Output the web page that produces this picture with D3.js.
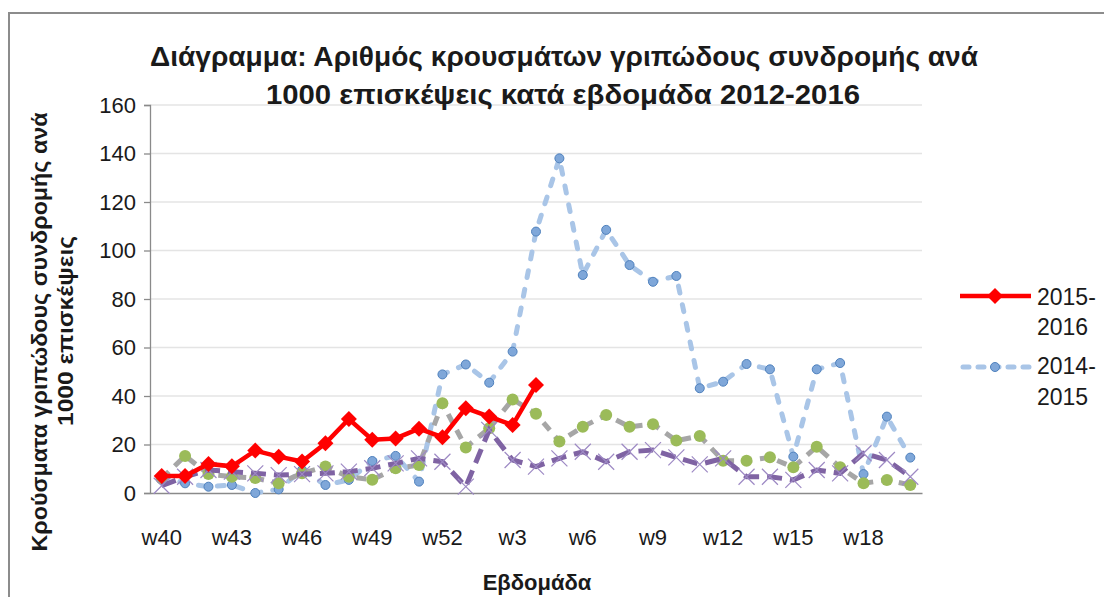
<!DOCTYPE html>
<html>
<head>
<meta charset="utf-8">
<script src="https://cdn.jsdelivr.net/npm/d3@7"></script>
<style>
  body { margin: 0; background: #fff; }
  svg { display: block; font-family: "Liberation Sans", Arial, sans-serif; }
  .tick text { fill: #1a1a1a; }
</style>
</head>
<body>
<svg id="chart" width="1104" height="597"></svg>
<script>
// weeks of the flu season, w40 .. w20
var weeks = ["w40","w41","w42","w43","w44","w45","w46","w47","w48","w49","w50","w51","w52",
  "w1","w2","w3","w4","w5","w6","w7","w8","w9","w10","w11","w12","w13","w14","w15","w16","w17","w18","w19","w20"];

var yTicks = [0, 20, 40, 60, 80, 100, 120, 140, 160];

// cases per 1000 visits
var s2015_2016 = [7, 7, 12, 11, 17.5, 15, 13, 20.5, 30.5, 22, 22.5, 26.5, 23, 35, 31.5, 28, 44.5];
var s2014_2015 = [7, 4, 2.6, 3.3, 0, 1.5, 9.5, 3.3, 5.4, 13.2, 15.3, 4.7, 48.9, 53, 45.5, 58.3, 107.8, 138,
  89.9, 108.5, 94, 87.1, 89.5, 43.2, 45.9, 53.2, 51, 15, 51, 53.6, 7.8, 31.5, 14.6];
var s2013_2014 = [6, 15.3, 7.8, 6.7, 6.2, 4, 8.1, 10.9, 6.7, 5.5, 10.2, 11.5, 37, 18.8, 26.7, 38.6, 32.7,
  21.2, 27.3, 32.2, 27.3, 28.4, 21.6, 23.5, 13.3, 13.3, 14.7, 10.6, 19.1, 10.6, 4, 5.4, 3.3];
var s2012_2013 = [3, 6.7, 9.5, 8.8, 8.1, 7.4, 7.8, 8.1, 8.8, 10.2, 12.2, 14.3, 12.9, 2.6, 26, 13.6, 10.9,
  14.3, 17, 12.9, 17, 17.7, 14.7, 11.8, 14.3, 6.7, 6.7, 5.4, 9.5, 8.1, 16.4, 13.6, 6.7];

function flu_chart() {
  var svg, x, y, plot, left, right, top, bottom, line, series;

  svg = d3.select("#chart");
  left = 150; right = 922; top = 105; bottom = 493;

  // outer chart frame
  svg.append("rect")
    .attr("x", 9).attr("y", 13).attr("width", 1200).attr("height", 700)
    .attr("fill", "none").attr("stroke", "#8c8c8c").attr("stroke-width", 2);

  x = d3.scaleBand().domain(weeks).range([left, right]);
  y = d3.scaleLinear().domain([0, 160]).range([bottom, top]);

  // gridlines
  svg.append("g").selectAll("line").data(yTicks.slice(1)).enter().append("line")
    .attr("x1", left).attr("x2", right)
    .attr("y1", function(d) { return y(d); }).attr("y2", function(d) { return y(d); })
    .attr("stroke", "#e4e4e4").attr("stroke-width", 1.3);

  // y axis
  var yAxis = svg.append("g").attr("transform", "translate(" + left + ",0)")
    .call(d3.axisLeft(y).tickValues(yTicks).tickSize(6).tickPadding(8));
  yAxis.selectAll("line, path").attr("stroke", "#8a8a8a").attr("stroke-width", 1.3);
  yAxis.selectAll("text").attr("font-size", 22).attr("font-family", "Liberation Sans");

  // x axis, label every third week
  var xAxis = svg.append("g").attr("transform", "translate(0," + bottom + ")")
    .call(d3.axisBottom(x).tickSize(0).tickPadding(36)
      .tickValues(weeks.filter(function(d, i) { return i % 3 === 0; })));
  xAxis.select("path").attr("stroke", "#8a8a8a").attr("stroke-width", 1.3);
  xAxis.selectAll("text").attr("font-size", 22).attr("font-family", "Liberation Sans");

  function cx(i) { return x(weeks[i]) + x.bandwidth() / 2; }

  line = d3.line().x(function(d, i) { return cx(i); }).y(function(d) { return y(d); });

  series = [
    { name: "2014-2015", values: s2014_2015, stroke: "#a9c5e7", width: 5, dash: "7,12", cap: "round", marker: "circle" },
    { name: "2013-2014", values: s2013_2014, stroke: "#a6a6a6", width: 5, dash: "10,8", cap: "butt", marker: "dot" },
    { name: "2012-2013", values: s2012_2013, stroke: "#7f63a3", width: 5, dash: "15,8", cap: "butt", marker: "x" },
    { name: "2015-2016", values: s2015_2016, stroke: "#ff0000", width: 4.5, dash: null, cap: "butt", marker: "diamond" }
  ];

  plot = svg.append("g");

  series.forEach(function(s) {
    var g = plot.append("g");
    g.append("path").datum(s.values)
      .attr("d", line)
      .attr("fill", "none")
      .attr("stroke", s.stroke)
      .attr("stroke-width", s.width)
      .attr("stroke-linecap", s.cap)
      .attr("stroke-dasharray", s.dash);
    drawMarkers(g, s);
  });

  function drawMarkers(g, s) {
    var pts = g.selectAll(".m").data(s.values).enter().append("g")
      .attr("transform", function(d, i) { return "translate(" + cx(i) + "," + y(d) + ")"; });
    if (s.marker === "circle") {
      pts.append("circle").attr("r", 4.5).attr("fill", "#7fa7d9").attr("stroke", "#4f81bd").attr("stroke-width", 1);
    } else if (s.marker === "dot") {
      pts.append("circle").attr("r", 6).attr("fill", "#9bbb59");
    } else if (s.marker === "x") {
      pts.append("path").attr("d", "M-8,-8L8,8M-8,8L8,-8")
        .attr("stroke", "#9d89c4").attr("stroke-width", 1.2);
    } else {
      pts.append("path").attr("d", "M0,-8L8,0L0,8L-8,0Z").attr("fill", "#ff0000");
    }
  }

  // legend (only the first two entries are in view)
  var legend = svg.append("g").attr("font-size", 23).attr("fill", "#1a1a1a");
  var lg1 = legend.append("g").attr("transform", "translate(960,296)");
  lg1.append("line").attr("x1", 0).attr("x2", 71).attr("stroke", "#ff0000").attr("stroke-width", 4.5);
  lg1.append("path").attr("d", "M35,-8L43,0L35,8L27,0Z").attr("fill", "#ff0000");
  lg1.append("text").attr("x", 77).attr("y", 9).text("2015-");
  lg1.append("text").attr("x", 77).attr("y", 39).text("2016");

  var lg2 = legend.append("g").attr("transform", "translate(960,367)");
  lg2.append("line").attr("x1", 3).attr("x2", 69).attr("stroke", "#a9c5e7").attr("stroke-width", 5)
    .attr("stroke-dasharray", "6,9").attr("stroke-linecap", "round");
  lg2.append("circle").attr("cx", 35).attr("r", 4.5).attr("fill", "#7fa7d9").attr("stroke", "#4f81bd");
  lg2.append("text").attr("x", 77).attr("y", 7).text("2014-");
  lg2.append("text").attr("x", 77).attr("y", 38).text("2015");

  // titles
  svg.append("text").attr("x", 564).attr("y", 66).attr("text-anchor", "middle")
    .attr("font-size", 27).attr("font-weight", "bold").attr("fill", "#1a1a1a")
    .attr("textLength", 828).attr("lengthAdjust", "spacingAndGlyphs")
    .text("Διάγραμμα: Αριθμός κρουσμάτων γριπώδους συνδρομής ανά");
  svg.append("text").attr("x", 563).attr("y", 104).attr("text-anchor", "middle")
    .attr("font-size", 27).attr("font-weight", "bold").attr("fill", "#1a1a1a")
    .attr("textLength", 594).attr("lengthAdjust", "spacingAndGlyphs")
    .text("1000 επισκέψεις κατά εβδομάδα  2012-2016");

  svg.append("text").attr("transform", "translate(47,332) rotate(-90)").attr("text-anchor", "middle")
    .attr("font-size", 22).attr("font-weight", "bold").attr("fill", "#1a1a1a")
    .attr("textLength", 439).attr("lengthAdjust", "spacingAndGlyphs")
    .text("Κρούσματα γριπώδους συνδρομής ανά");
  svg.append("text").attr("transform", "translate(73,331) rotate(-90)").attr("text-anchor", "middle")
    .attr("font-size", 22).attr("font-weight", "bold").attr("fill", "#1a1a1a")
    .attr("textLength", 190).attr("lengthAdjust", "spacingAndGlyphs")
    .text("1000 επισκέψεις");

  svg.append("text").attr("x", 537).attr("y", 590).attr("text-anchor", "middle")
    .attr("font-size", 22).attr("font-weight", "bold").attr("fill", "#1a1a1a")
    .text("Εβδομάδα");
}

flu_chart();
</script>
</body>
</html>
